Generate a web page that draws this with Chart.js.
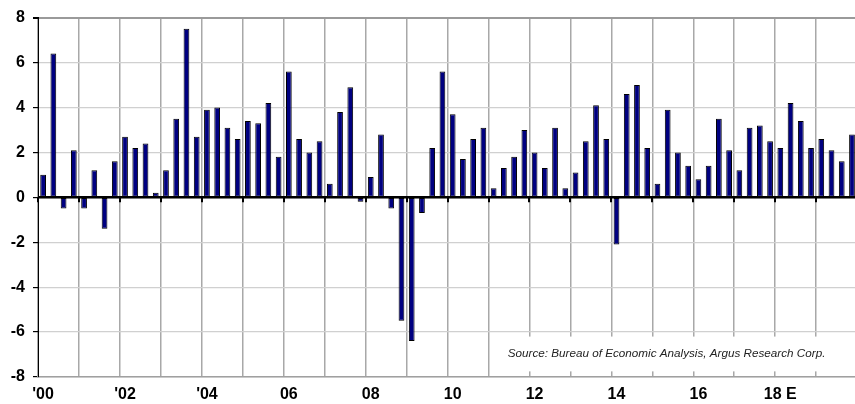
<!DOCTYPE html>
<html>
<head>
<meta charset="utf-8">
<script src="https://cdn.jsdelivr.net/npm/chart.js@4.4.1/dist/chart.umd.min.js"></script>
<style>
  html, body { margin:0; padding:0; background:#fff; overflow:hidden; }
  #wrap { position:absolute; left:0; top:0; width:860px; height:404px; }
</style>
</head>
<body>
<div id="wrap"><canvas id="gdp" width="860" height="404"></canvas></div>
<script>
// quarterly real GDP growth, annualized %, 2000 Q1 .. 2019 Q4 (E)
const years = ['00','01','02','03','04','05','06','07','08','09','10','11','12','13','14','15','16','17','18','19'];
const quarters = [];
years.forEach(y => { for (let q = 1; q <= 4; q++) quarters.push(q + 'Q' + y); });

const growth = [
  1.0, 6.4, -0.5, 2.1,
  -0.5, 1.2, -1.4, 1.6,
  2.7, 2.2, 2.4, 0.2,
  1.2, 3.5, 7.5, 2.7,
  3.9, 4.0, 3.1, 2.6,
  3.4, 3.3, 4.2, 1.8,
  5.6, 2.6, 2.0, 2.5,
  0.6, 3.8, 4.9, -0.2,
  0.9, 2.8, -0.5, -5.5,
  -6.4, -0.7, 2.2, 5.6,
  3.7, 1.7, 2.6, 3.1,
  0.4, 1.3, 1.8, 3.0,
  2.0, 1.3, 3.1, 0.4,
  1.1, 2.5, 4.1, 2.6,
  -2.1, 4.6, 5.0, 2.2,
  0.6, 3.9, 2.0, 1.4,
  0.8, 1.4, 3.5, 2.1,
  1.2, 3.1, 3.2, 2.5,
  2.2, 4.2, 3.4, 2.2,
  2.6, 2.1, 1.6, 2.8
];

// one label every two years, on the first quarter
const yearTicks = ["'00", "'02", "'04", '06', '08', '10', '12', '14', '16', '18 E'];
const sourceNote = 'Source: Bureau of Economic Analysis, Argus Research Corp.';

const tickFont = { family: '"Liberation Sans", Arial, Helvetica, sans-serif', size: 16, weight: 'bold' };

// white note box + zero-line tick marks
const extras = {
  id: 'extras',
  beforeDatasetsDraw(chart) {
    const { ctx, chartArea, scales: { x, y } } = chart;
    const step = x.getPixelForValue(1) - x.getPixelForValue(0);
    const left = x.getPixelForValue(44) + step / 2;
    const top = y.getPixelForValue(-6.2);
    const bottom = y.getPixelForValue(-7.75);
    ctx.save();
    ctx.fillStyle = '#fff';
    ctx.fillRect(left, top, chartArea.right - left, bottom - top);
    ctx.fillStyle = '#222';
    ctx.font = 'italic 11.7px "Liberation Sans", Arial, sans-serif';
    ctx.textBaseline = 'middle';
    ctx.fillText(sourceNote, left + 9, (top + bottom) / 2);
    ctx.restore();
  },
  afterDatasetsDraw(chart) {
    const { ctx, scales: { x, y } } = chart;
    const step = x.getPixelForValue(1) - x.getPixelForValue(0);
    const y0 = y.getPixelForValue(0);
    ctx.save();
    ctx.strokeStyle = '#000';
    ctx.lineWidth = 2.5;
    ctx.beginPath();
    ctx.moveTo(chart.chartArea.left, y0);
    ctx.lineTo(chart.chartArea.right, y0);
    ctx.stroke();
    ctx.lineWidth = 2;
    for (let i = 0; i < quarters.length; i += 4) {
      const px = Math.round(x.getPixelForValue(i) - step / 2);
      ctx.beginPath();
      ctx.moveTo(px, y0);
      ctx.lineTo(px, y0 + 5);
      ctx.stroke();
    }
    ctx.restore();
  }
};

new Chart(document.getElementById('gdp').getContext('2d'), {
  type: 'bar',
  data: {
    labels: quarters,
    datasets: [{
      data: growth,
      backgroundColor: '#000080',
      borderColor: '#000',
      borderWidth: 1,
      borderSkipped: false,
      inflateAmount: 0,
      barPercentage: 0.56,
      categoryPercentage: 1
    }]
  },
  options: {
    responsive: false,
    animation: false,
    devicePixelRatio: 1,
    layout: { padding: { top: 14, right: 2, left: 0, bottom: 0 } },
    plugins: { legend: { display: false }, tooltip: { enabled: false } },
    scales: {
      x: {
        grid: {
          offset: true,
          drawTicks: false,
          color: c => (c.index % 4 === 0 ? '#a8a8a8' : 'rgba(0,0,0,0)'),
          lineWidth: 1.5
        },
        border: { color: '#a0a0a0', width: 1.5 },
        ticks: {
          autoSkip: false,
          maxRotation: 0,
          padding: 8,
          color: '#000',
          font: tickFont,
          callback: (v, i) => (i % 8 === 0 ? yearTicks[i / 8] : '')
        },
        afterFit: s => { s.height = 27; }
      },
      y: {
        min: -8,
        max: 8,
        grid: {
          color: c => (c.tick.value === 8 ? '#9a9a9a' : '#d0d0d0'),
          lineWidth: c => (c.tick.value === 8 ? 2 : 1.2),
          tickColor: '#000',
          tickLength: 5
        },
        border: { color: '#000', width: 1 },
        ticks: { stepSize: 2, padding: 8, color: '#000', font: tickFont },
        afterFit: s => { s.width = 38; }
      }
    }
  },
  plugins: [extras]
});
</script>
</body>
</html>
